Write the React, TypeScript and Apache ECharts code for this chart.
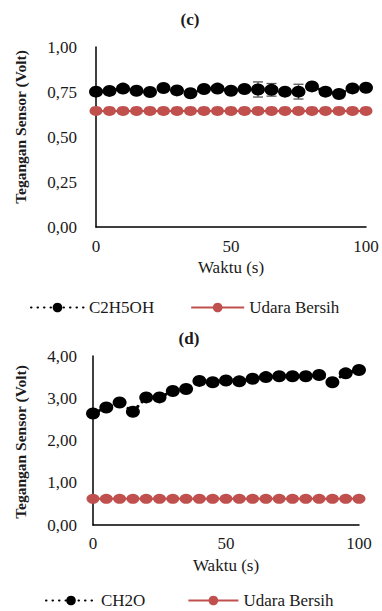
import React, { useEffect, useRef } from "react";
import * as echarts from "echarts";

const times = [0, 5, 10, 15, 20, 25, 30, 35, 40, 45, 50, 55, 60, 65, 70, 75, 80, 85, 90, 95, 100];
const c2h5oh = [0.752, 0.756, 0.769, 0.757, 0.75, 0.772, 0.759, 0.743, 0.767, 0.769, 0.757, 0.767, 0.764, 0.762, 0.752, 0.752, 0.781, 0.752, 0.739, 0.77, 0.774];
const c2h5ohErr = [0, 0, 0, 0, 0, 0, 0, 0, 0, 0, 0, 0, 0.042, 0.035, 0, 0.041, 0, 0.02, 0.02, 0, 0];
const udaraC = [0.645, 0.645, 0.645, 0.645, 0.645, 0.645, 0.645, 0.645, 0.645, 0.645, 0.645, 0.645, 0.645, 0.645, 0.645, 0.645, 0.645, 0.645, 0.645, 0.645, 0.645];
const ch2o = [2.64, 2.78, 2.9, 2.68, 3.02, 3.02, 3.17, 3.22, 3.41, 3.38, 3.42, 3.4, 3.46, 3.5, 3.52, 3.52, 3.52, 3.55, 3.38, 3.59, 3.67];
const udaraD = [0.62, 0.62, 0.62, 0.62, 0.62, 0.62, 0.62, 0.62, 0.62, 0.62, 0.62, 0.62, 0.62, 0.62, 0.62, 0.62, 0.62, 0.62, 0.62, 0.62, 0.62];
const yTicksC = [0, 0.25, 0.5, 0.75, 1.0];
const yTicksD = [0, 1, 2, 3, 4];
const xTicks = [0, 50, 100];

const FONT = "Liberation Serif";
const TXT = "#1a1a1a";
const RED = "#c0504d";

export default function App() {
  const ref = useRef<HTMLDivElement>(null);
  useEffect(() => {
    if (!ref.current) return;
    const chart = echarts.init(ref.current, undefined, { renderer: "svg" });
    const fmt2 = (v: number) => v.toFixed(2).replace(".", ",");
    const axisLine = { show: true, lineStyle: { color: "#000", width: 1.5 } };
    const xAx = (gridIndex: number, margin: number) => ({
      type: "value",
      gridIndex,
      min: xTicks[0],
      max: xTicks[xTicks.length - 1],
      interval: xTicks[1] - xTicks[0],
      axisLine,
      axisTick: { show: false },
      splitLine: { show: false },
      axisLabel: { color: TXT, fontFamily: FONT, fontSize: 17, margin },
      name: "Waktu (s)",
      nameLocation: "middle",
      nameGap: 32,
      nameTextStyle: { color: TXT, fontFamily: FONT, fontSize: 17 },
    });
    const yAx = (gridIndex: number, ticks: number[], margin: number) => ({
      type: "value",
      gridIndex,
      min: ticks[0],
      max: ticks[ticks.length - 1],
      interval: ticks[1] - ticks[0],
      axisLine,
      axisTick: { show: false },
      splitLine: { show: false },
      axisLabel: { color: TXT, fontFamily: FONT, fontSize: 17, margin, formatter: fmt2 },
    });
    const pairs = (ys: number[]) => times.map((t, i) => [t, ys[i]]);
    const errData = times
      .map((t, i) => [t, c2h5oh[i] - c2h5ohErr[i], c2h5oh[i] + c2h5ohErr[i], c2h5ohErr[i]])
      .filter((d) => d[3] > 0);
    const dotted = { color: "#000", width: 3, type: [0.5, 6], cap: "round" };

    chart.setOption({
      animation: false,
      backgroundColor: "#fff",
      textStyle: { fontFamily: FONT },
      grid: [
        { left: 96, top: 47, width: 270, height: 180 },
        { left: 93, top: 356, width: 266, height: 169 },
      ],
      xAxis: [xAx(0, 11), xAx(1, 10)],
      yAxis: [yAx(0, yTicksC, 19), yAx(1, yTicksD, 16)],
      legend: [
        {
          left: 25,
          top: 294,
          itemWidth: 53,
          itemHeight: 12,
          itemGap: 36,
          data: ["C2H5OH", "Udara Bersih"],
          textStyle: { color: TXT, fontFamily: FONT, fontSize: 17 },
        },
        {
          left: 40,
          top: 587,
          itemWidth: 50,
          itemHeight: 12,
          itemGap: 42,
          data: ["CH2O", "Udara Bersih "],
          textStyle: { color: TXT, fontFamily: FONT, fontSize: 17 },
        },
      ],
      graphic: [
        { type: "text", x: 190, y: 19, style: { text: "(c)", fontFamily: FONT, fontWeight: "bold", fontSize: 17, fill: TXT, align: "center", verticalAlign: "middle" } },
        { type: "text", x: 189, y: 338, style: { text: "(d)", fontFamily: FONT, fontWeight: "bold", fontSize: 17, fill: TXT, align: "center", verticalAlign: "middle" } },
        { type: "text", x: 20, y: 127, rotation: Math.PI / 2, style: { text: "Tegangan Sensor (Volt)", fontFamily: FONT, fontWeight: "bold", fontSize: 15.5, fill: TXT, align: "center", verticalAlign: "middle" } },
        { type: "text", x: 20, y: 442, rotation: Math.PI / 2, style: { text: "Tegangan Sensor (Volt)", fontFamily: FONT, fontWeight: "bold", fontSize: 15.5, fill: TXT, align: "center", verticalAlign: "middle" } },
      ],
      series: [
        {
          type: "custom",
          name: "err",
          xAxisIndex: 0,
          yAxisIndex: 0,
          z: 1,
          silent: true,
          data: errData,
          renderItem: (params: any, api: any) => {
            const x = api.value(0);
            const lo = api.coord([x, api.value(1)]);
            const hi = api.coord([x, api.value(2)]);
            const w = 5;
            const st = { stroke: "#555", lineWidth: 1.3 };
            return {
              type: "group",
              children: [
                { type: "line", shape: { x1: lo[0], y1: lo[1], x2: hi[0], y2: hi[1] }, style: st },
                { type: "line", shape: { x1: lo[0] - w, y1: lo[1], x2: lo[0] + w, y2: lo[1] }, style: st },
                { type: "line", shape: { x1: hi[0] - w, y1: hi[1], x2: hi[0] + w, y2: hi[1] }, style: st },
              ],
            };
          },
        },
        {
          type: "line",
          name: "Udara Bersih",
          xAxisIndex: 0,
          yAxisIndex: 0,
          data: pairs(udaraC),
          symbol: "circle",
          symbolSize: [13, 10],
          color: RED,
          lineStyle: { color: RED, width: 2 },
          itemStyle: { color: RED },
          z: 2,
        },
        {
          type: "line",
          name: "C2H5OH",
          xAxisIndex: 0,
          yAxisIndex: 0,
          data: pairs(c2h5oh),
          symbol: "circle",
          symbolSize: [14, 12],
          color: "#000",
          lineStyle: dotted,
          itemStyle: { color: "#000" },
          z: 3,
        },
        {
          type: "line",
          name: "Udara Bersih ",
          xAxisIndex: 1,
          yAxisIndex: 1,
          data: pairs(udaraD),
          symbol: "circle",
          symbolSize: [13, 10],
          color: RED,
          lineStyle: { color: RED, width: 2 },
          itemStyle: { color: RED },
          z: 2,
        },
        {
          type: "line",
          name: "CH2O",
          xAxisIndex: 1,
          yAxisIndex: 1,
          data: pairs(ch2o),
          symbol: "circle",
          symbolSize: [14, 12],
          color: "#000",
          lineStyle: dotted,
          itemStyle: { color: "#000" },
          z: 3,
        },
      ],
    });
    return () => chart.dispose();
  }, []);
  return <div ref={ref} style={{ position: "fixed", left: 0, top: 0, width: 382, height: 611 }} />;
}
